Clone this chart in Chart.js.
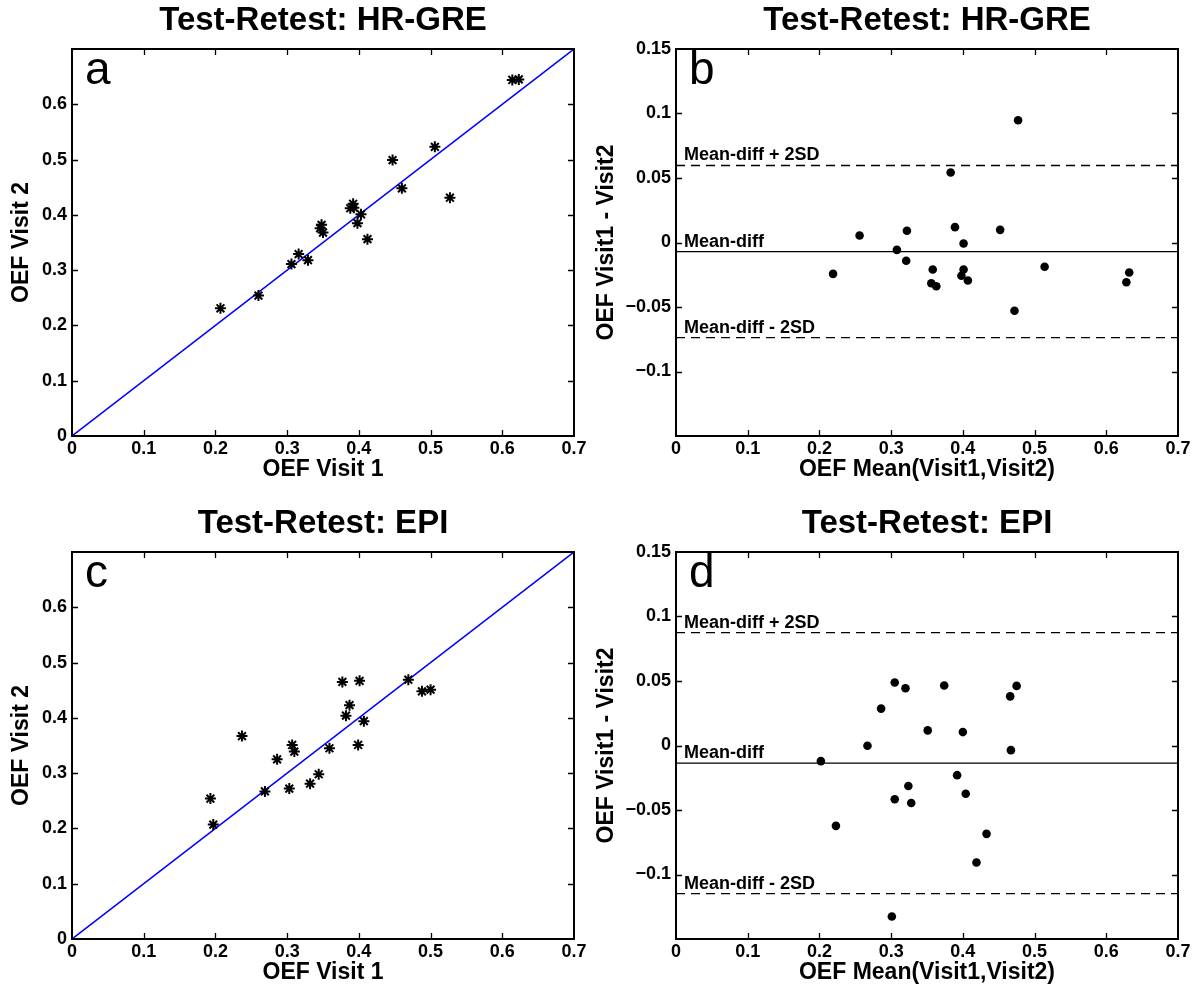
<!DOCTYPE html>
<html>
<head>
<meta charset="utf-8">
<script src="https://cdn.jsdelivr.net/npm/chart.js@4.4.0/dist/chart.umd.min.js"></script>
<style>
    body { margin: 0; background: #fff; }
    #wrap { position: relative; width: 1201px; height: 996px; overflow: hidden; }
    canvas { position: absolute; }
</style>
</head>
<body>
<div id="wrap">
    <canvas id="chartA" width="590" height="498" style="left:0;top:0"></canvas>
    <canvas id="chartB" width="611" height="498" style="left:590px;top:0"></canvas>
    <canvas id="chartC" width="590" height="498" style="left:0;top:503px"></canvas>
    <canvas id="chartD" width="611" height="498" style="left:590px;top:503px"></canvas>
</div>
<script>
const FONT = "'Liberation Sans', Arial, Helvetica, sans-serif";

//#region data
// HR-GRE test-retest (panel a)
const hrVisit1 = [0.207, 0.260, 0.306, 0.316, 0.329, 0.346, 0.348, 0.350, 0.388, 0.392,
                  0.393, 0.403, 0.398, 0.412, 0.447, 0.460, 0.506, 0.527, 0.614, 0.623];
const hrVisit2 = [0.231, 0.254, 0.311, 0.329, 0.318, 0.376, 0.382, 0.368, 0.412, 0.420,
                  0.413, 0.401, 0.385, 0.356, 0.499, 0.448, 0.523, 0.431, 0.644, 0.645];
// HR-GRE Bland-Altman (panel b)
const hrMean = [0.477, 0.383, 0.256, 0.322, 0.389, 0.452, 0.401, 0.308, 0.321, 0.219,
                0.358, 0.401, 0.398, 0.407, 0.356, 0.363, 0.514, 0.632, 0.628, 0.472];
const hrDiff = [0.0948, 0.0543, 0.0054, 0.0091, 0.0119, 0.0098, -0.0008, -0.0057, -0.0142, -0.0243,
                -0.0209, -0.0209, -0.0258, -0.0295, -0.0316, -0.0339, -0.0188, -0.0233, -0.0308, -0.0529];
const hrLimits = [0.0597, -0.0070, -0.0737];

// EPI test-retest (panel c)
const epiVisit1 = [0.193, 0.197, 0.237, 0.269, 0.286, 0.303, 0.307, 0.310, 0.332, 0.344,
                   0.359, 0.382, 0.387, 0.399, 0.377, 0.401, 0.407, 0.469, 0.488, 0.500];
const epiVisit2 = [0.254, 0.207, 0.367, 0.267, 0.325, 0.272, 0.351, 0.339, 0.281, 0.298,
                   0.345, 0.404, 0.423, 0.351, 0.465, 0.467, 0.394, 0.469, 0.448, 0.451];
// EPI Bland-Altman (panel d)
const epiMean = [0.305, 0.320, 0.374, 0.475, 0.466, 0.286, 0.351, 0.400, 0.267, 0.467,
                 0.202, 0.392, 0.324, 0.404, 0.305, 0.328, 0.223, 0.433, 0.419, 0.301];
const epiDiff = [0.0488, 0.0444, 0.0465, 0.0462, 0.0381, 0.0286, 0.0117, 0.0104, -0.0002, -0.0036,
                 -0.0121, -0.0230, -0.0314, -0.0374, -0.0417, -0.0446, -0.0623, -0.0685, -0.0907, -0.1325];
const epiLimits = [0.0875, -0.0137, -0.1149];

const limitLabels = ['Mean-diff + 2SD', 'Mean-diff', 'Mean-diff - 2SD'];
const identityLine = [0, 0.7];
const xTicks = [0, 0.1, 0.2, 0.3, 0.4, 0.5, 0.6, 0.7];
const yTicksOEF = [0, 0.1, 0.2, 0.3, 0.4, 0.5, 0.6];
const yTicksDiff = [-0.1, -0.05, 0, 0.05, 0.1, 0.15];
//#endregion

//#region plugin: matlab style box, inner ticks, letter and limit labels
const matlabBox = {
    id: 'matlabBox',
    afterDraw(chart, args, opts) {
        const ctx = chart.ctx;
        const a = chart.chartArea;
        const xs = chart.scales.x;
        const ys = chart.scales.y;
        ctx.save();
        ctx.strokeStyle = '#000';
        ctx.lineWidth = 1.3;
        ctx.beginPath();
        xs.ticks.forEach(t => {
            if (t.value <= xs.min || t.value >= xs.max) return;
            const px = Math.round(xs.getPixelForValue(t.value)) + 0.5;
            ctx.moveTo(px, a.bottom); ctx.lineTo(px, a.bottom - 6);
            ctx.moveTo(px, a.top); ctx.lineTo(px, a.top + 6);
        });
        ys.ticks.forEach(t => {
            if (t.value <= ys.min || t.value >= ys.max) return;
            const py = Math.round(ys.getPixelForValue(t.value)) + 0.5;
            ctx.moveTo(a.left, py); ctx.lineTo(a.left + 6, py);
            ctx.moveTo(a.right, py); ctx.lineTo(a.right - 6, py);
        });
        ctx.stroke();
        ctx.lineWidth = 2;
        ctx.strokeRect(a.left, a.top, a.right - a.left, a.bottom - a.top);

        ctx.fillStyle = '#000';
        ctx.textAlign = 'left';
        ctx.textBaseline = 'alphabetic';
        ctx.font = '46px ' + FONT;
        ctx.fillText(opts.letter, a.left + 13, a.top + 35);

        if (opts.limits) {
            ctx.font = 'bold 18px ' + FONT;
            opts.limits.forEach((v, i) => {
                ctx.fillText(limitLabels[i], a.left + 8, ys.getPixelForValue(v) - 5);
            });
        }
        ctx.restore();
    }
};
//#endregion

function fmtTick(v) {
    return v < 0 ? '\u2212' + String(-v) : String(v);
}

function toPoints(xArr, yArr) {
    return xArr.map((v, i) => ({ x: v, y: yArr[i] }));
}

function makePanel(id, cfg) {
    return new Chart(document.getElementById(id), {
        type: 'scatter',
        data: { datasets: cfg.datasets },
        options: {
            responsive: false,
            animation: false,
            layout: { padding: { left: 0, right: cfg.padRight, top: 0, bottom: 0 } },
            plugins: {
                legend: { display: false },
                tooltip: { enabled: false },
                title: {
                    display: true,
                    text: cfg.title,
                    fullSize: false,
                    color: '#000',
                    font: { family: FONT, size: 33, weight: 'bold', lineHeight: 1.2 },
                    padding: { top: 1, bottom: 8.4 }
                },
                matlabBox: { letter: cfg.letter, limits: cfg.limits }
            },
            scales: {
                x: {
                    type: 'linear', min: 0, max: 0.7,
                    afterBuildTicks: s => { s.ticks = xTicks.map(v => ({ value: v })); },
                    afterFit: s => { s.height = 62; },
                    grid: { display: false, drawTicks: false },
                    border: { display: false },
                    ticks: { color: '#000', padding: 2, font: { family: FONT, size: 18, weight: 'bold' }, callback: fmtTick },
                    title: {
                        display: true, text: cfg.xTitle, color: '#000',
                        font: { family: FONT, size: 23, weight: 'bold', lineHeight: 1.2 },
                        padding: { top: 0, bottom: 15 }
                    }
                },
                y: {
                    type: 'linear', min: cfg.yMin, max: cfg.yMax,
                    afterBuildTicks: s => { s.ticks = cfg.yTicks.map(v => ({ value: v })); },
                    afterFit: s => { s.width = cfg.yWidth; },
                    grid: { display: false, drawTicks: false },
                    border: { display: false },
                    ticks: { color: '#000', padding: 5, font: { family: FONT, size: 18, weight: 'bold' }, callback: fmtTick },
                    title: {
                        display: true, text: cfg.yTitle, color: '#000',
                        font: { family: FONT, size: 23, weight: 'bold', lineHeight: 1.2 },
                        padding: { top: cfg.yTitlePad, bottom: 0 }
                    }
                }
            }
        },
        plugins: [matlabBox]
    });
}

function retestDatasets(v1, v2) {
    return [
        {
            data: toPoints(v1, v2),
            pointStyle: 'star', pointRadius: 5.5, borderWidth: 2,
            borderColor: '#000', backgroundColor: '#000'
        },
        {
            data: toPoints(identityLine, identityLine),
            showLine: true, pointRadius: 0, borderColor: '#0000ff', borderWidth: 1.5
        }
    ];
}

function blandDatasets(meanArr, diffArr, limits) {
    let sets = [{
        data: toPoints(meanArr, diffArr),
        pointStyle: 'circle', pointRadius: 4.3, borderWidth: 0,
        backgroundColor: '#000', borderColor: '#000'
    }];
    limits.forEach((v, i) => {
        sets.push({
            data: [{ x: xTicks[0], y: v }, { x: xTicks[xTicks.length - 1], y: v }],
            showLine: true, pointRadius: 0, borderColor: '#000', borderWidth: 1.3,
            borderDash: i == 1 ? [] : [9, 6]
        });
    });
    return sets;
}

makePanel('chartA', {
    title: 'Test-Retest: HR-GRE', letter: 'a', padRight: 16, yWidth: 72, yTitlePad: 8,
    xTitle: 'OEF Visit 1', yTitle: 'OEF Visit 2',
    yMin: 0, yMax: 0.7, yTicks: yTicksOEF,
    datasets: retestDatasets(hrVisit1, hrVisit2)
});
makePanel('chartB', {
    title: 'Test-Retest: HR-GRE', letter: 'b', padRight: 23, yWidth: 86, yTitlePad: 3,
    xTitle: 'OEF Mean(Visit1,Visit2)', yTitle: 'OEF Visit1 - Visit2',
    yMin: -0.15, yMax: 0.15, yTicks: yTicksDiff, limits: hrLimits,
    datasets: blandDatasets(hrMean, hrDiff, hrLimits)
});
makePanel('chartC', {
    title: 'Test-Retest: EPI', letter: 'c', padRight: 16, yWidth: 72, yTitlePad: 8,
    xTitle: 'OEF Visit 1', yTitle: 'OEF Visit 2',
    yMin: 0, yMax: 0.7, yTicks: yTicksOEF,
    datasets: retestDatasets(epiVisit1, epiVisit2)
});
makePanel('chartD', {
    title: 'Test-Retest: EPI', letter: 'd', padRight: 23, yWidth: 86, yTitlePad: 3,
    xTitle: 'OEF Mean(Visit1,Visit2)', yTitle: 'OEF Visit1 - Visit2',
    yMin: -0.15, yMax: 0.15, yTicks: yTicksDiff, limits: epiLimits,
    datasets: blandDatasets(epiMean, epiDiff, epiLimits)
});
</script>
</body>
</html>
